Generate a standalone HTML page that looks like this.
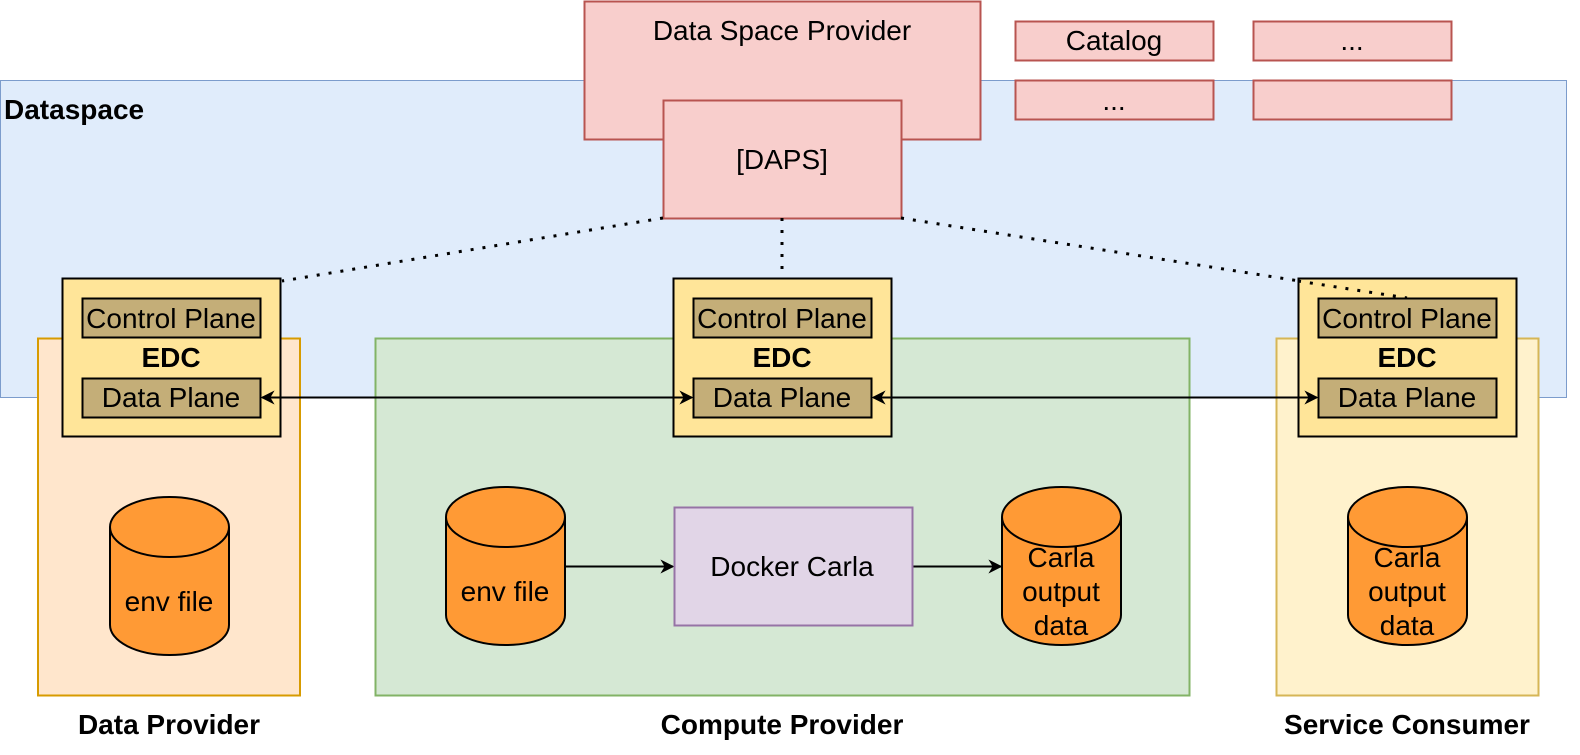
<!DOCTYPE html>
<html><head><meta charset="utf-8"><style>
html,body{margin:0;padding:0;background:#fff}
svg text{font-family:"Liberation Sans",sans-serif}
</style></head><body>
<svg width="1580" height="750" viewBox="0 0 1580 750" xmlns="http://www.w3.org/2000/svg">
<defs>
<marker id="a" viewBox="0 0 10 10" refX="9" refY="5" markerWidth="14" markerHeight="14" orient="auto-start-reverse" markerUnits="userSpaceOnUse"><path d="M0,0 L10,5 L0,10 L3,5 Z" fill="#000"/></marker>
</defs>
<rect x="0.5" y="80.5" width="1566" height="317" fill="#e0ecfb" stroke="#7c9ccc"/>
<text x="4" y="119" font-size="28" font-weight="bold">Dataspace</text>
<rect x="584.5" y="1.5" width="396" height="138" fill="#f8cecc" stroke="#b85450" stroke-width="2"/>
<text x="782" y="40" font-size="28" text-anchor="middle">Data Space Provider</text>
<rect x="663.5" y="100.5" width="238" height="118" fill="#f8cecc" stroke="#b85450" stroke-width="2"/>
<text x="782" y="169" font-size="28" text-anchor="middle">[DAPS]</text>
<rect x="1015.5" y="21.5" width="198" height="39" fill="#f8cecc" stroke="#b85450" stroke-width="2"/>
<text x="1114" y="50" font-size="28" text-anchor="middle">Catalog</text>
<rect x="1253.5" y="21.5" width="198" height="39" fill="#f8cecc" stroke="#b85450" stroke-width="2"/>
<text x="1352" y="50" font-size="28" text-anchor="middle">...</text>
<rect x="1015.5" y="80.5" width="198" height="39" fill="#f8cecc" stroke="#b85450" stroke-width="2"/>
<text x="1114" y="110" font-size="28" text-anchor="middle">...</text>
<rect x="1253.5" y="80.5" width="198" height="39" fill="#f8cecc" stroke="#b85450" stroke-width="2"/>

<rect x="38" y="338.5" width="262" height="357" fill="#ffe6cc" stroke="#d79b00" stroke-width="2"/>
<rect x="375.5" y="338.5" width="814" height="357" fill="#d5e8d4" stroke="#82b366" stroke-width="2"/>
<rect x="1276.5" y="338.5" width="262" height="357" fill="#fff2cc" stroke="#d6b656" stroke-width="2"/>

<g stroke="#000" stroke-width="3" stroke-dasharray="3 9" fill="none">
<line x1="663" y1="218" x2="282" y2="281"/>
<line x1="782" y1="218" x2="782" y2="288"/>
<line x1="901" y1="218" x2="1407" y2="298"/>
</g>

<g font-size="28">
<g>
<rect x="62.5" y="278.5" width="218" height="158" fill="#ffe599" stroke="#000" stroke-width="2"/>
<rect x="82.5" y="298.5" width="178" height="39" fill="#c4ae78" stroke="#000" stroke-width="2"/>
<text x="171" y="328" text-anchor="middle">Control Plane</text>
<text x="171" y="367" text-anchor="middle" font-weight="bold">EDC</text>
<rect x="82.5" y="378.5" width="178" height="39" fill="#c4ae78" stroke="#000" stroke-width="2"/>
<text x="171" y="407" text-anchor="middle">Data Plane</text>
</g>
<g transform="translate(611,0)">
<rect x="62.5" y="278.5" width="218" height="158" fill="#ffe599" stroke="#000" stroke-width="2"/>
<rect x="82.5" y="298.5" width="178" height="39" fill="#c4ae78" stroke="#000" stroke-width="2"/>
<text x="171" y="328" text-anchor="middle">Control Plane</text>
<text x="171" y="367" text-anchor="middle" font-weight="bold">EDC</text>
<rect x="82.5" y="378.5" width="178" height="39" fill="#c4ae78" stroke="#000" stroke-width="2"/>
<text x="171" y="407" text-anchor="middle">Data Plane</text>
</g>
<g transform="translate(1236,0)">
<rect x="62.5" y="278.5" width="218" height="158" fill="#ffe599" stroke="#000" stroke-width="2"/>
<rect x="82.5" y="298.5" width="178" height="39" fill="#c4ae78" stroke="#000" stroke-width="2"/>
<text x="171" y="328" text-anchor="middle">Control Plane</text>
<text x="171" y="367" text-anchor="middle" font-weight="bold">EDC</text>
<rect x="82.5" y="378.5" width="178" height="39" fill="#c4ae78" stroke="#000" stroke-width="2"/>
<text x="171" y="407" text-anchor="middle">Data Plane</text>
</g>
</g>
<g stroke="#000" stroke-dasharray="3 9" fill="none">
<line x1="1298" y1="281" x2="1407" y2="298" stroke-width="3"/>
</g>

<g stroke="#000" stroke-width="2" fill="none">
<line x1="262" y1="397.5" x2="692" y2="397.5" marker-start="url(#a)" marker-end="url(#a)"/>
<line x1="873" y1="397.5" x2="1317" y2="397.5" marker-start="url(#a)" marker-end="url(#a)"/>
<line x1="566" y1="566.5" x2="673" y2="566.5" marker-end="url(#a)"/>
<line x1="913" y1="566.5" x2="1001" y2="566.5" marker-end="url(#a)"/>
</g>

<rect x="674.5" y="507.5" width="238" height="118" fill="#e1d5e7" stroke="#9673a6" stroke-width="2"/>
<text x="792" y="576" font-size="28" text-anchor="middle">Docker Carla</text>

<g stroke="#000" stroke-width="2" fill="#ff9a35">
<path d="M110,527 A59.5,30 0 0 1 229,527 L229,625 A59.5,30 0 0 1 110,625 Z"/>
<path d="M110,527 A59.5,30 0 0 0 229,527" fill="none"/>
<path d="M446,517 A59.5,30 0 0 1 565,517 L565,615 A59.5,30 0 0 1 446,615 Z"/>
<path d="M446,517 A59.5,30 0 0 0 565,517" fill="none"/>
<path d="M1002,517 A59.5,30 0 0 1 1121,517 L1121,615 A59.5,30 0 0 1 1002,615 Z"/>
<path d="M1002,517 A59.5,30 0 0 0 1121,517" fill="none"/>
<path d="M1348,517 A59.5,30 0 0 1 1467,517 L1467,615 A59.5,30 0 0 1 1348,615 Z"/>
<path d="M1348,517 A59.5,30 0 0 0 1467,517" fill="none"/>
</g>
<g font-size="28" text-anchor="middle">
<text x="169" y="611">env file</text>
<text x="505" y="601">env file</text>
<text x="1061" y="567">Carla</text><text x="1061" y="601">output</text><text x="1061" y="635">data</text>
<text x="1407" y="567">Carla</text><text x="1407" y="601">output</text><text x="1407" y="635">data</text>
</g>
<g font-size="28" font-weight="bold" text-anchor="middle">
<text x="169" y="734">Data Provider</text>
<text x="782" y="734">Compute Provider</text>
<text x="1407" y="734">Service Consumer</text>
</g>
</svg>
</body></html>
